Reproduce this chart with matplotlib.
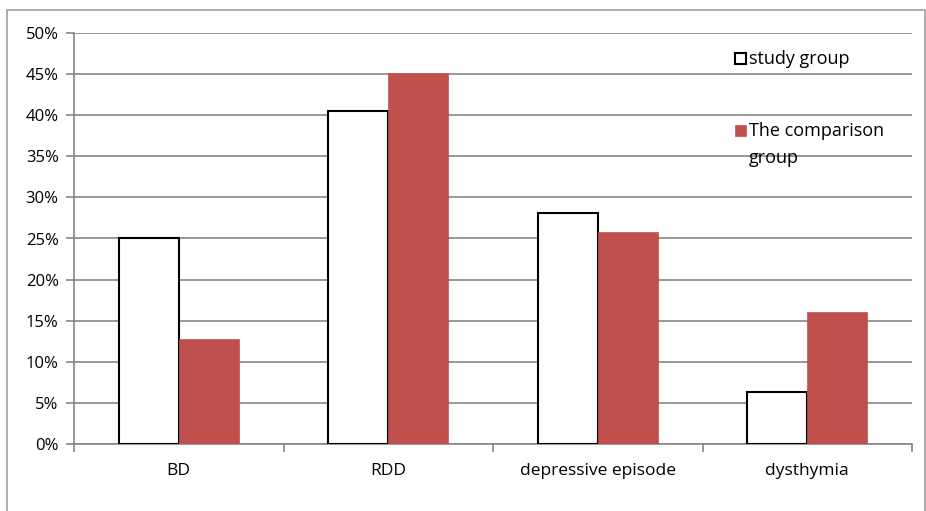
import matplotlib.pyplot as plt
import matplotlib.patches as mpatches
import numpy as np

plt.rcParams['font.family'] = ['Open Sans', 'DejaVu Sans']

categories = ['BD', 'RDD', 'depressive episode', 'dysthymia']
study = [25.0, 40.5, 28.1, 6.3]
comparison = [12.8, 45.1, 25.8, 16.1]
series_names = ['study group', 'The comparison\ngroup']

red = '#C0504D'
grid_col = '#868686'

fig = plt.figure(figsize=(9.26, 5.11), dpi=100)
# outer chart frame
fig.patches.append(mpatches.Rectangle((7 / 926, -0.01), 0.999 - 7 / 926, 1 - 10 / 511 + 0.01,
                                      transform=fig.transFigure, fill=False,
                                      edgecolor='#A0A0A0', linewidth=1.2))
ax = fig.add_axes([74 / 926, 67 / 511, (912 - 74) / 926, (444 - 33) / 511])

x = np.arange(len(categories))
w = 0.286
ax.bar(x - w / 2, study, w, color='white', edgecolor='black', linewidth=1.5, zorder=3)
ax.bar(x + w / 2, comparison, w, color=red, edgecolor=red, linewidth=0.5, zorder=3)

ax.set_xlim(-0.5, len(categories) - 0.5)
ax.set_ylim(0, 50)
ax.set_yticks(np.arange(0, 51, 5))
ax.set_yticklabels(['%d%%' % v for v in range(0, 51, 5)], fontsize=12)
ax.yaxis.grid(True, color=grid_col, linewidth=1.2, zorder=0)
ax.set_axisbelow(True)

# category labels between boundary ticks
ax.set_xticks(np.arange(-0.5, len(categories), 1.0))
ax.set_xticklabels([])
ax.set_xticks(x, minor=True)
ax.set_xticklabels(categories, minor=True, fontsize=12.5)
ax.tick_params(axis='x', which='major', length=6, color=grid_col, width=1.2)
ax.tick_params(axis='x', which='minor', length=0, pad=14)
ax.tick_params(axis='y', length=6, color=grid_col, width=1.2, pad=5)

for side in ['top', 'right']:
    ax.spines[side].set_visible(False)
for side in ['left', 'bottom']:
    ax.spines[side].set_color(grid_col)
    ax.spines[side].set_linewidth(1.2)

# legend: square key on the first line of each entry
keys = [dict(facecolor='white', edgecolor='black', linewidth=1.5),
        dict(facecolor=red, edgecolor=red, linewidth=0.5)]
key_y = [0.925, 0.749]
line_step = 27 / 411
for name, style, ky in zip(series_names, keys, key_y):
    ax.add_patch(mpatches.Rectangle((0.789, ky), 0.0131, 0.0268,
                                    transform=ax.transAxes, clip_on=False, **style))
    # baseline of a multi-line text is its last line
    ax.text(0.8055, ky - name.count('\n') * line_step, name, transform=ax.transAxes,
            va='baseline', ha='left', fontsize=13, linespacing=1.65)

fig.savefig('out.png', dpi=100)
